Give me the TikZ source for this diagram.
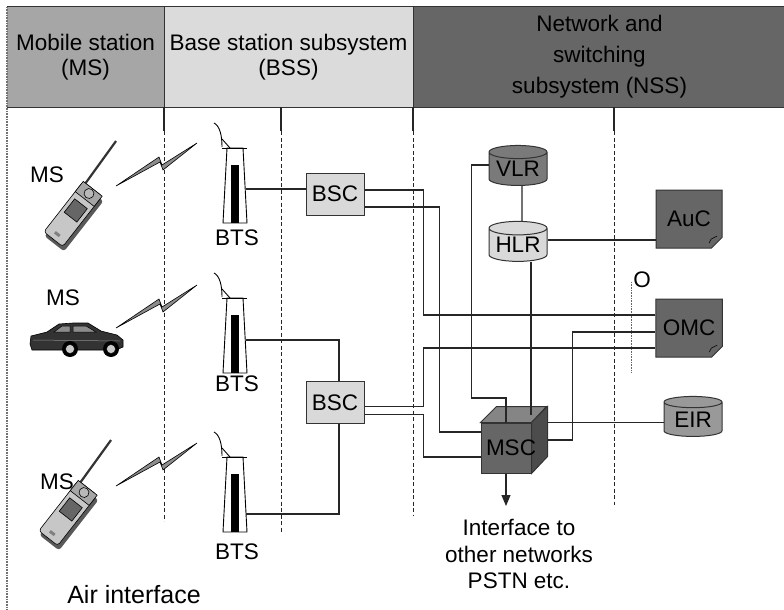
\documentclass[tikz,border=0pt]{standalone}
\usepackage{fontspec}
\setmainfont{Liberation Sans}
\usetikzlibrary{shapes.geometric,shapes.misc,arrows.meta,positioning,calc}

\begin{document}
\begin{tikzpicture}[x=1pt,y=-1pt,
  every node/.style={font=\fontsize{22.5}{25}\selectfont,inner sep=0pt,align=center},%
  e/.style={line width=1.1pt,draw=black!85},%
  hd/.style={line width=1.2pt,draw=black!80},%
  dv/.style={line width=1pt,draw=black!85,dash pattern=on 4pt off 2.5pt},%
  bx/.style={draw=black!80,line width=1pt,minimum width=58pt,minimum height=42pt},%
  cl/.style={cylinder,aspect=.3,shape border rotate=90,draw=black!80,line width=1pt,%
    minimum width=58pt,minimum height=40pt},%
  dg/.style={chamfered rectangle,chamfered rectangle corners=south east,%
    chamfered rectangle xsep=7pt,draw=black!80,line width=1pt,fill=black!60,%
    minimum width=66pt,minimum height=58pt},%
  pics/bts/.style={code={%
    \draw[line width=.9pt] (-21,-25) .. controls (-15,-22) and (-13,-12) .. (-13,-1);
    \draw[line width=.9pt] (-13,-9) -- (-5,0);
    \draw[line width=.9pt,fill=white] (-8,0) -- (8,0) -- (12,75) -- (-12,75) -- cycle;
    \draw[line width=.9pt] (-13,0) -- (12,0);
    \fill (-4,17) rectangle (4,75);
  }},%
  pics/bolt/.style={code={%
    \draw[line width=.6pt,fill=black!45] (0,0) -- (43,-29) -- (46,-21) -- (81,-43)
      -- (47,-16) -- (44,-24) -- cycle;
  }},%
  pics/phone/.style={code={%
    \draw[line width=2.2pt,black!80] (-9,-30) -- (-11,-84);
    \fill[black!65,rounded corners=3pt] (-9,-29) rectangle (16,35);
    \draw[line width=.6pt,fill=black!22,rounded corners=3pt] (-12,-32) rectangle (12,32);
    \draw[line width=.6pt,fill=black!35] (-12,-32) rectangle (12,-19);
    \draw[line width=.6pt,fill=black!28] (0,-26) circle (5);
    \draw[line width=.6pt,fill=black!60] (-8,-13) rectangle (8,4);
    \fill[black!50] (-3,24) rectangle (3,27);
  }},%
  pics/car/.style={code={%
    \draw[line width=.6pt,fill=black!80] (0,21) -- (1,13) -- (17,9) -- (29,1) -- (43,0)
      -- (58,0) -- (71,8) -- (87,12) -- (93,17) -- (93,24) -- (86,27) -- (2,27) -- cycle;
    \draw[line width=.5pt,fill=black!45] (24,9) -- (32,3) -- (40,3) -- (40,9) -- cycle;
    \draw[line width=.5pt,fill=black!45] (43,3) -- (56,3) -- (66,9) -- (43,9) -- cycle;
    \draw[line width=.5pt,black!45] (3,17) -- (90,18);
    \fill (40,26) circle (8);
    \draw[line width=.4pt,fill=black!20] (40,26) circle (4.5);
    \fill (81,26) circle (8);
    \draw[line width=.4pt,fill=black!20] (81,26) circle (4.5);
  }},%
  ]
  \useasboundingbox (0,0) rectangle (784,610);

  % header bands
  \node (ms) [fill=black!35,minimum width=157pt,minimum height=100pt] at (85.5,57)
    {Mobile station\\(MS)};
  \node (bss) [fill=black!14,minimum width=249pt,minimum height=100pt] at (288.5,57)
    {Base station subsystem\\(BSS)};
  \node (nss) [fill=black!60,minimum width=373pt,minimum height=100pt,
    font=\fontsize{22.5}{31}\selectfont] at (599.5,57)
    {Network and\\switching\\subsystem (NSS)};
  \draw[hd] (ms.north west) -- (nss.north east);
  \draw[hd] (ms.south west) -- (nss.south east);
  \draw[hd] (ms.north east) -- (ms.south east);
  \draw[hd] (bss.north east) -- (bss.south east);

  % column borders
  \draw[black!55,line width=1.2pt,dash pattern=on .8pt off .8pt] (7,7) -- (7,610);
  \draw[e] (164,107) -- (164,131);
  \draw[dv] (164,131) -- (164,521);
  \draw[e] (281,107) -- (281,131);
  \draw[dv] (281,131) -- (281,532);
  \draw[e] (413,107) -- (413,131);
  \draw[dv] (413,131) -- (413,515);
  \draw[e] (614,107) -- (614,131);
  \draw[dv] (614,131) -- (614,505);
  \draw[black!60,line width=.8pt,dash pattern=on .8pt off .8pt] (631,282) -- (631,372);
  \node (o) at (642,280) {O};

  % mobile stations and radio links
  \pic[rotate=-38] at (73,214) {phone};
  \pic at (30,323) {car};
  \pic[rotate=-38] at (68,513) {phone};
  \pic at (116,186) {bolt};
  \pic at (116,328) {bolt};
  \pic at (116,486) {bolt};
  \node (ms1) at (47,175) {MS};
  \node (ms2) at (63,298) {MS};
  \node (ms3) at (57,482) {MS};

  % base transceiver stations
  \pic at (235,148) {bts};
  \pic at (235,298) {bts};
  \pic at (235,457) {bts};
  \coordinate (bts1) at (246,189);
  \coordinate (bts2) at (246,340);
  \coordinate (bts3) at (246,514);
  \node (bts1l) at (237,238) {BTS};
  \node (bts2l) at (237,384) {BTS};
  \node (bts3l) at (237,552) {BTS};

  % controllers and registers
  \node (bsc1) [bx,fill=black!15] at (335,194) {BSC};
  \node (bsc2) [bx,fill=black!15] at (335,402.5) {BSC};
  \node (vlr) [cl,fill=black!52] at (518,169) {VLR};
  \node (hlr) [cl,fill=black!15] at (518,245) {HLR};
  \node (eir) [cl,fill=black!40] at (693,419.5) {EIR};
  \node (auc) [dg] at (689,219) {AuC};
  \node (omc) [dg] at (689,328) {OMC};
  \draw[line width=.6pt] ($(auc.south east)+(-8,0)$) -- ++(2,-4) -- ($(auc.south east)+(0,-7)$);
  \draw[line width=.6pt] ($(omc.south east)+(-8,0)$) -- ++(2,-4) -- ($(omc.south east)+(0,-7)$);

  % switching centre
  \node (msc) [bx,fill=black!60,minimum width=50pt,minimum height=50pt] at (506,448) {};
  \draw[line width=1pt,draw=black!80,fill=black!48] (msc.north west) -- ++(16,-16)
    -- ++(50,0) -- (msc.north east) -- cycle;
  \draw[line width=1pt,draw=black!80,fill=black!70] (msc.north east) -- ++(16,-16)
    -- ++(0,50) -- (msc.south east) -- cycle;
  \coordinate (iface) at (506,506);

  % links
  \draw[e] (bts1) -- (bts1 -| bsc1.west);
  \draw[e] (bts2) -| ([xshift=4pt]bsc2.north);
  \draw[e] (bts3) -| ([xshift=4pt]bsc2.south);
  \draw[e] ([yshift=4pt]bsc1.east) -- ++(59,0) |- ([yshift=13pt]omc.west);
  \draw[e] ([yshift=-13pt]bsc1.east) -- ++(75,0) |- ([yshift=16pt]msc.west);
  \draw[e] ([yshift=-4pt]bsc2.east) -- ++(59,0) |- ([yshift=-20pt]omc.west);
  \draw[e] ([yshift=-12pt]bsc2.east) -- ++(59,0) |- ([yshift=-9pt]msc.west);
  \draw[e] ([yshift=4pt]vlr.west) -- ++(-17,0) -- ++(0,233) -| (msc.north);
  \draw[e] ([xshift=4pt]vlr.south) -- ([xshift=4pt]hlr.north);
  \draw[e] ([yshift=5pt]hlr.east) -- ([yshift=5pt]hlr.east -| auc.west);
  \draw[e] ([xshift=13pt]hlr.south) -- ([xshift=25pt,yshift=8pt]msc.north);
  \draw[e] ([xshift=16pt]msc.north east) -- (msc.north east -| eir.west);
  \draw[e] ([xshift=16pt,yshift=8pt]msc.east) -- ++(25,0) |- ([yshift=-4pt]omc.west);
  \draw[e,-{Triangle[length=11pt,width=9pt]}] (msc.south) -- (iface);
  \node (msclabel) at ([xshift=5pt]msc.center) {MSC};

  \node (pstn) [font=\fontsize{22.5}{26.5}\selectfont] at (519,554)
    {Interface to\\other networks\\PSTN etc.};
  \node (air) [font=\fontsize{25}{30}\selectfont] at (134,595) {Air interface};
\end{tikzpicture}
\end{document}
